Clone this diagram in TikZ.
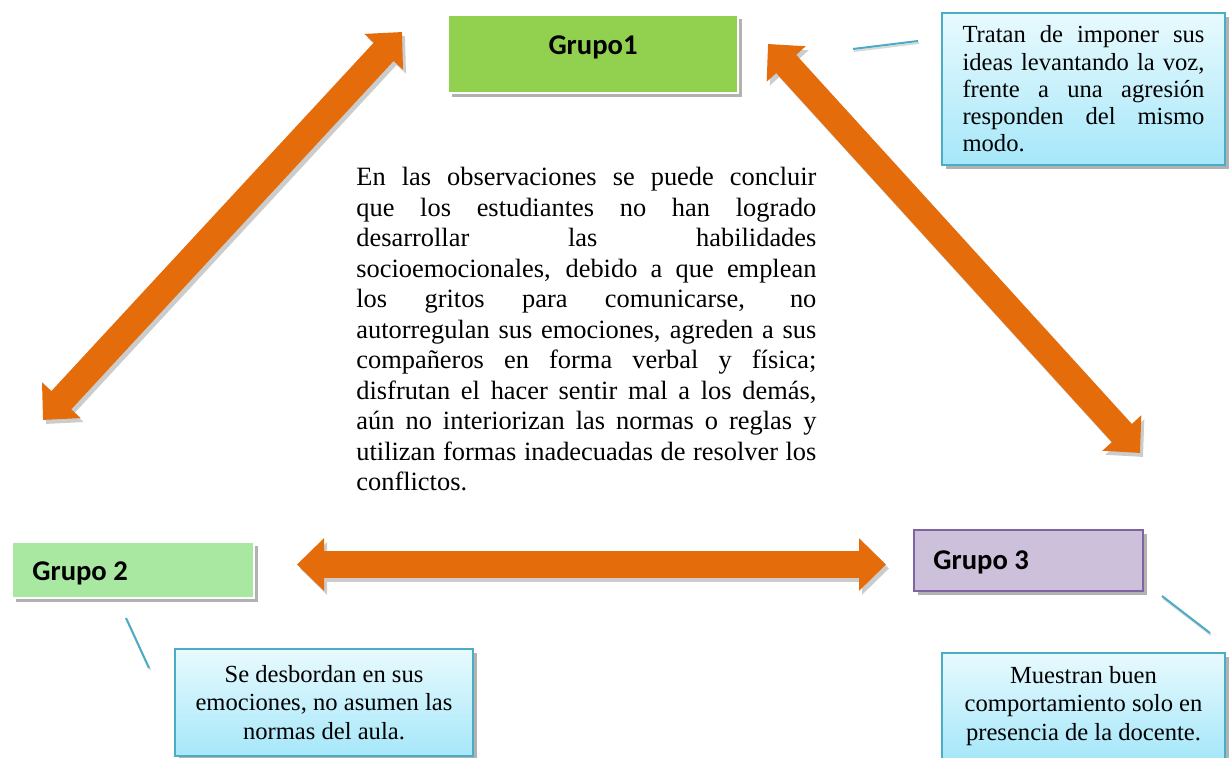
\documentclass[tikz,border=0pt]{standalone}
\usepackage{fontspec}
\setmainfont{Liberation Serif}
\newfontfamily\calibri{Carlito}
\usepackage{tikz}
\usetikzlibrary{arrows.meta,positioning,calc,shadows}
\definecolor{naranja}{HTML}{E46C0A}
\definecolor{verdeuno}{HTML}{92D050}
\definecolor{verdedos}{HTML}{A8E8A0}
\definecolor{lila}{HTML}{CCC0DA}
\definecolor{lilaborde}{HTML}{8064A2}
\definecolor{cian}{HTML}{4BACC6}
\definecolor{cianclaro}{HTML}{E8FAFE}
\definecolor{cianfondo}{HTML}{A6E7F9}
\newcommand{\renglon}[2][230pt]{\makebox[#1][s]{#2}}

\tikzset{
  grupo/.style={draw=white, line width=1pt, inner sep=0pt,
    drop shadow={shadow xshift=1.8pt, shadow yshift=-2.2pt, opacity=.3, fill=black}},
  grupotxt/.style={font=\calibri\bfseries\fontsize{14.3}{17}\selectfont, inner sep=0pt},
  nota/.style={draw=cian, line width=1pt, top color=cianclaro, bottom color=cianfondo,
    inner ysep=0pt, align=justify, font=\fontsize{12.3}{14.2}\selectfont,
    drop shadow={shadow xshift=1.8pt, shadow yshift=-2.2pt, opacity=.3, fill=black}},
  centrada/.style={execute at begin node=\centering},
  punta/.tip={Triangle[width=25.5pt,length=13.5pt]},
  flecha/.style={draw=naranja, line width=13.5pt, punta-punta},
  flechasombra/.style={draw=black!20, line width=13.5pt, punta-punta},
  guia/.style={draw=cian, line width=1pt}
}

\begin{document}
\begin{tikzpicture}[x=0.5pt,y=-0.5pt]
  \useasboundingbox (0,0) rectangle (1230,758);

  % grupos
  \node[grupo, fill=verdeuno, minimum width=145pt, minimum height=39pt] (g1) at (593,54) {};
  \node[grupotxt, anchor=base] (g1t) at ($(g1.north)+(0,41)$) {Grupo1};
  \node[grupo, fill=verdedos, minimum width=121pt, minimum height=28pt] (g2) at (133,570) {};
  \node[grupotxt, anchor=base west] (g2t) at ($(g2.north west)+(21,39)$) {Grupo 2};
  \node[grupo, draw=lilaborde, fill=lila, minimum width=114.5pt, minimum height=30.5pt] (g3) at (1028.5,560.5) {};
  \node[grupotxt, anchor=base west] (g3t) at ($(g3.north west)+(20,40)$) {Grupo 3};

  % texto central
  \node[anchor=north west, inner sep=0pt, text width=230pt, align=justify,
        font=\fontsize{13.2}{15.25}\selectfont] (conclusion) at (356,167) {%
    \renglon{En las observaciones se puede concluir}\\
    \renglon{que los estudiantes no han logrado}\\
    \renglon{desarrollar las habilidades}\\
    \renglon{socioemocionales, debido a que emplean}\\
    \renglon{los gritos para comunicarse, no}\\
    \renglon{autorregulan sus emociones, agreden a sus}\\
    \renglon{compañeros en forma verbal y física;}\\
    \renglon{disfrutan el hacer sentir mal a los demás,}\\
    \renglon{aún no interiorizan las normas o reglas y}\\
    \renglon{utilizan formas inadecuadas de resolver los}\\
    conflictos.};

  % notas
  \node[nota, minimum width=141.5pt, minimum height=76pt, text width=121pt,
        inner xsep=10.25pt, font=\fontsize{12.3}{13.6}\selectfont] (n1) at (1083.5,89) {%
    \renglon[121pt]{Tratan de imponer sus}\\
    \renglon[121pt]{ideas levantando la voz,}\\
    \renglon[121pt]{frente a una agresión}\\
    \renglon[121pt]{responden del mismo}\\
    modo.};
  \node[nota, centrada, minimum width=149pt, minimum height=53.5pt, text width=135pt,
        inner xsep=7pt] (n2) at (324,702.5) {%
    Se desbordan en sus\\ emociones, no asumen las\\ normas del aula.};
  \node[nota, centrada, minimum width=141.5pt, minimum height=53.5pt, text width=128pt,
        inner xsep=6.75pt] (n3) at (1083.5,706) {%
    Muestran buen\\ comportamiento solo en\\ presencia de la docente.};

  % puntos de las flechas y guias
  \coordinate (f1a) at (43,420);
  \coordinate (f1b) at (402,32);
  \coordinate (f2a) at (768,44);
  \coordinate (f2b) at (1140,453);
  \coordinate (f3a) at (297,564.5);
  \coordinate (f3b) at (886,564.5);
  \coordinate (p1a) at (853,49);
  \coordinate (p1b) at (918,41);
  \coordinate (p2a) at (126,618);
  \coordinate (p2b) at (149,668);
  \coordinate (p3a) at (1162,596);
  \coordinate (p3b) at (1210,633);

  % flechas
  \foreach \a/\b in {f1a/f1b, f2a/f2b, f3a/f3b} {
    \draw[flechasombra] ([shift={(3,4)}]\a) -- ([shift={(3,4)}]\b);
    \draw[flecha] (\a) -- (\b);
  }

  % guias
  \foreach \a/\b in {p1a/p1b, p2a/p2b, p3a/p3b} {
    \draw[draw=black!15, line width=1pt] ([shift={(1,2)}]\a) -- ([shift={(1,2)}]\b);
    \draw[guia] (\a) -- (\b);
  }
\end{tikzpicture}
\end{document}
